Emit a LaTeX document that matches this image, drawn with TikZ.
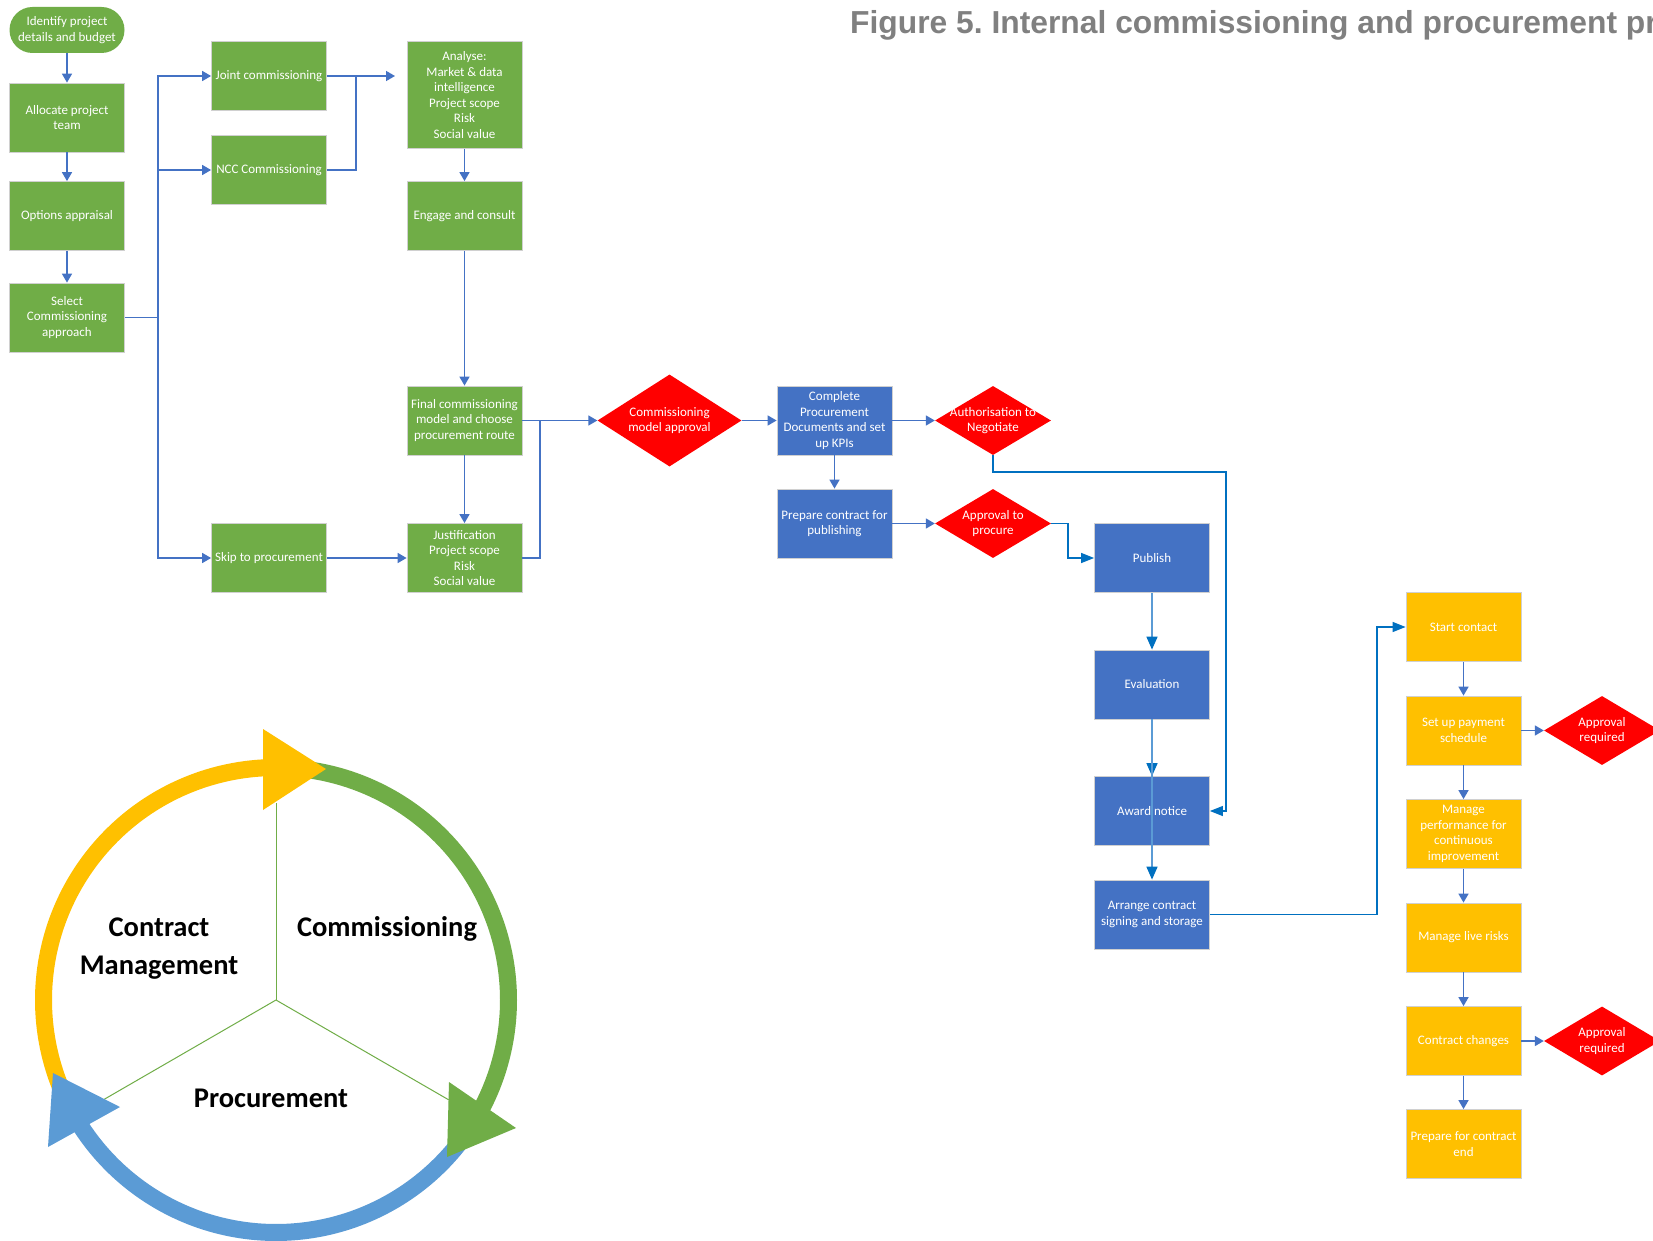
\documentclass[tikz,border=0pt]{standalone}
\usepackage{fontspec}
\setmainfont{Carlito}
\newfontfamily\titlefont{Liberation Sans}
\usetikzlibrary{arrows.meta,shapes.geometric}
\definecolor{cgreen}{HTML}{70AD47}
\definecolor{cblue}{HTML}{4472C4}
\definecolor{cyel}{HTML}{FFC000}
\definecolor{cred}{HTML}{FF0000}
\definecolor{cline}{HTML}{4472C4}
\definecolor{cline2}{HTML}{0070C0}
\definecolor{cline3}{HTML}{5B9BD5}
\definecolor{cring}{HTML}{5B9BD5}
\definecolor{ctitle}{HTML}{808080}
\definecolor{cborder}{HTML}{D0D0D0}
\frenchspacing
\begin{document}
\begin{tikzpicture}[x=1pt,y=-1pt,
 every node/.style={inner sep=0pt},
 box/.style={rectangle, draw=cborder, line width=0.8pt, minimum width=115pt, minimum height=69pt, text=white, align=center, font=\fontsize{13}{15.6}\selectfont},
 gbox/.style={box, fill=cgreen},
 bbox/.style={box, fill=cblue},
 ybox/.style={box, fill=cyel},
 dia/.style={diamond, fill=cred, minimum width=116pt, minimum height=69pt},
 dtext/.style={text=white, align=center, font=\fontsize{13}{15.6}\selectfont},
 conn/.style={draw=cline, line width=1.6pt, -{Triangle[length=9pt,width=10pt]}},
 link/.style={draw=cline, line width=1.6pt},
 conn2/.style={draw=cline2, line width=1.2pt, -{Triangle[length=13pt,width=10pt]}},
 conn3/.style={draw=cline3, line width=1.6pt, -{Triangle[length=13pt,width=11pt,color=cline2]}},
 ring/.style={line width=17pt},
 big/.style={font=\bfseries\fontsize{28.5}{34}\selectfont}
]
\useasboundingbox[fill=white] (0,0) rectangle (1653,1241);

% title
\node[anchor=base west, text=ctitle, font=\titlefont\bfseries\fontsize{31.8}{38}\selectfont] (title) at (850,34) {Figure 5. Internal commissioning and procurement pr};

% green column
\node[gbox, draw=none, rounded corners=23pt, minimum height=46pt] (ident) at (67,30) {Identify project\\details and budget};
\node[gbox] (alloc) at (67,117.5) {Allocate project\\team};
\node[gbox] (options) at (67,216) {Options appraisal};
\node[gbox] (select) at (67,317.5) {Select\\Commissioning\\approach};
\node[gbox] (joint) at (269,76) {Joint commissioning};
\node[gbox] (ncc) at (269,170) {NCC Commissioning};
\node[gbox] (skip) at (269,558) {Skip to procurement};
\node[gbox, minimum height=107pt] (analyse) at (464.5,95) {Analyse:\\Market \& data\\intelligence\\Project scope\\Risk\\Social value};
\node[gbox] (engage) at (464.5,216) {Engage and consult};
\node[gbox] (final) at (464.5,420.5) {Final commissioning\\model and choose\\procurement route};
\node[gbox] (justif) at (464.5,558) {Justification\\Project scope\\Risk\\Social value};

% diamonds
\node[dia, minimum width=144pt, minimum height=92pt] (cma) at (669.5,420.5) {};
\node[dtext] (cmat) at (cma) {Commissioning\\model approval};
\node[dia] (auth) at (993,420.5) {};
\node[dtext] (autht) at (auth) {Authorisation to\\Negotiate};
\node[dia] (approve) at (993,523.5) {};
\node[dtext] (approvet) at (approve) {Approval to\\procure};
\node[dia] (req1) at (1602,730.5) {};
\node[dtext] (req1t) at (req1) {Approval\\required};
\node[dia] (req2) at (1602,1041) {};
\node[dtext] (req2t) at (req2) {Approval\\required};

% blue boxes
\node[bbox] (complete) at (834.5,420.5) {Complete\\Procurement\\Documents and set\\up KPIs};
\node[bbox] (prepare) at (834.5,523.5) {Prepare contract for\\publishing};
\node[bbox] (publish) at (1152,558) {Publish};
\node[bbox] (evaluation) at (1152,684.5) {Evaluation};
\node[bbox] (award) at (1152,811) {Award notice};
\node[bbox] (arrange) at (1152,914.5) {Arrange contract\\signing and storage};

% yellow boxes
\node[ybox] (start) at (1463.5,627) {Start contact};
\node[ybox] (setup) at (1463.5,730.5) {Set up payment\\schedule};
\node[ybox] (perf) at (1463.5,834) {Manage\\performance for\\continuous\\improvement};
\node[ybox] (live) at (1463.5,937.5) {Manage live risks};
\node[ybox] (changes) at (1463.5,1041) {Contract changes};
\node[ybox] (endc) at (1463.5,1144) {Prepare for contract\\end};

% connectors
\draw[conn] (ident) -- (alloc);
\draw[conn] (alloc) -- (options);
\draw[conn] (options) -- (select);
\coordinate (br) at (158,317.5);
\draw[link] (select.east) -- (br);
\draw[conn] (br) |- (joint.west);
\draw[conn] (br) |- (ncc.west);
\draw[conn] (br) |- (skip.west);
\coordinate (mg) at (356,76);
\coordinate (atip) at (395,76);
\draw[conn] (joint.east) -- (atip);
\draw[link] (ncc.east) -| (mg);
\draw[conn] (analyse) -- (engage);
\draw[conn] (engage) -- (final);
\draw[conn] (final) -- (justif);
\draw[conn] (skip) -- (justif);
\coordinate (mj) at (540,420.5);
\draw[conn] (final.east) -- (cma.west);
\draw[link] (justif.east) -| (mj);
\draw[conn] (cma) -- (complete);
\draw[conn] (complete) -- (auth);
\draw[conn] (complete) -- (prepare);
\draw[conn] (prepare) -- (approve);
\coordinate (c1) at (1226,472);
\draw[conn2] (auth.south) |- (c1) |- (award.east);
\coordinate (c2) at (1068,523.5);
\draw[conn2] (approve.east) -- (c2) |- (publish.west);
\draw[conn3] (publish) -- (evaluation);
\draw[conn3] (evaluation) -- (award);
\draw[conn3] (evaluation.south) -- (arrange.north);
\coordinate (c3) at (1377,914.5);
\draw[conn2] (arrange.east) -- (c3) |- (start.west);
\draw[conn] (start) -- (setup);
\draw[conn] (setup) -- (perf);
\draw[conn] (perf) -- (live);
\draw[conn] (live) -- (changes);
\draw[conn] (changes) -- (endc);
\draw[conn] (setup) -- (req1);
\draw[conn] (changes) -- (req2);

% cycle diagram
\coordinate (cc) at (276,1000);
\draw[cgreen, line width=1pt] (cc) -- (276,803);
\draw[cgreen, line width=1pt] (cc) -- (103,1100);
\draw[cgreen, line width=1pt] (cc) -- (449,1100);
\draw[ring, cyel] plot[domain=203:93, samples=90] ({276+232.5*cos(\x)},{1000-232.5*sin(\x)});
\draw[ring, cgreen] plot[domain=82:-32, samples=90] ({276+232.5*cos(\x)},{1000-232.5*sin(\x)});
\draw[ring, cring] plot[domain=-35:-148, samples=90] ({276+232.5*cos(\x)},{1000-232.5*sin(\x)});
\fill[cyel] (263,729) -- (263,810) -- (326,769) -- cycle;
\fill[cgreen] (449,1082) -- (447,1157) -- (516,1128) -- cycle;
\fill[cring] (53,1073) -- (48,1147) -- (120,1107) -- cycle;
\node[big, anchor=base] (tcm1) at (159,936) {Contract};
\node[big, anchor=base] (tcm2) at (159,974) {Management};
\node[big, anchor=base] (tcom) at (387,936) {Commissioning};
\node[big, anchor=base] (tproc) at (271,1107) {Procurement};
\end{tikzpicture}
\end{document}
